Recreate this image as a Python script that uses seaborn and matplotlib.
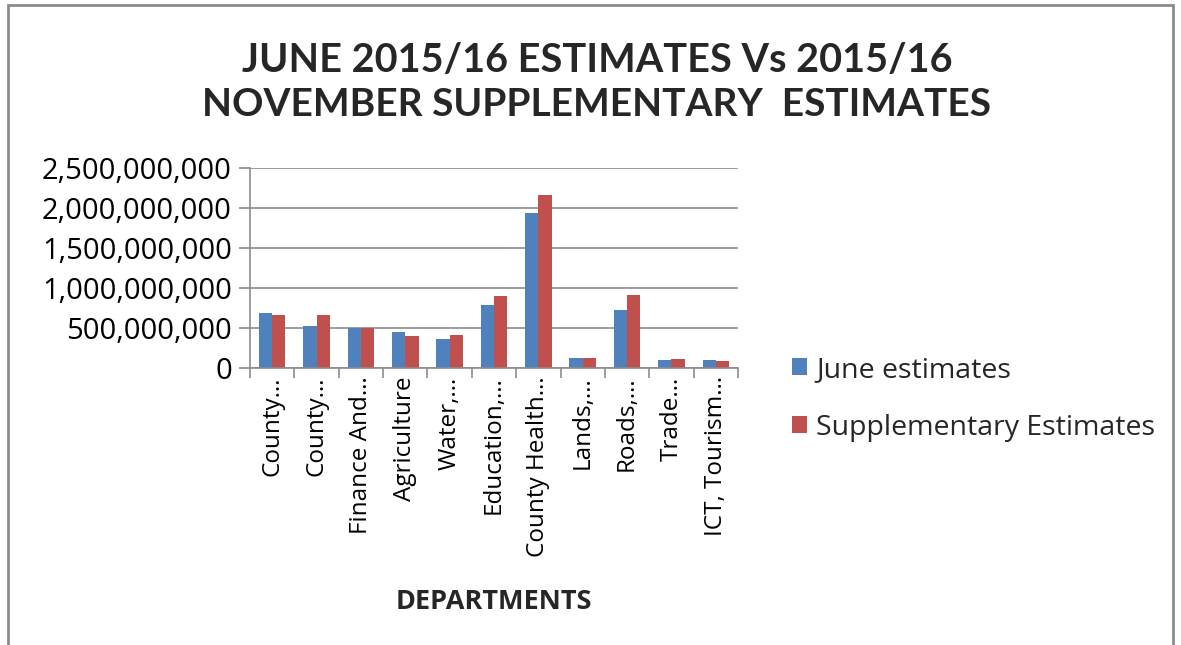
import matplotlib
matplotlib.use("Agg")
import matplotlib.pyplot as plt
import seaborn as sns
import pandas as pd
import numpy as np
from matplotlib.patches import Patch, Rectangle
from matplotlib.ticker import FuncFormatter, FixedLocator

departments = ["County…", "County…", "Finance And…", "Agriculture", "Water,…",
               "Education,…", "County Health…", "Lands,…", "Roads,…", "Trade…",
               "ICT, Tourism…"]
june_estimates = [683e6, 525e6, 500e6, 450e6, 362e6, 787e6, 1937e6, 129e6, 721e6, 96e6, 96e6]
supplementary_estimates = [663e6, 663e6, 500e6, 396e6, 412e6, 900e6, 2167e6, 129e6, 912e6, 112e6, 92e6]
series_names = ["June estimates", "Supplementary Estimates"]
colors = ["#4F81BD", "#C0504D"]

ids = [f"d{i}" for i in range(len(departments))]
df = pd.DataFrame({
    "dept": ids * 2,
    "value": june_estimates + supplementary_estimates,
    "series": [series_names[0]] * len(ids) + [series_names[1]] * len(ids),
})

sns.set_theme(style="white")
plt.rcParams["font.family"] = ["Lato", "DejaVu Sans"]
wide = ["Open Sans", "DejaVu Sans"]

fig = plt.figure(figsize=(11.81, 6.45), dpi=100)
ax = fig.add_axes([250/1181, 1-368/645, (738-250)/1181, 200/645])

sns.barplot(data=df, x="dept", y="value", hue="series", order=ids,
            hue_order=series_names, palette=colors, width=0.6, gap=0,
            saturation=1, ax=ax, legend=False, edgecolor="none")

ax.set_ylim(0, 2.5e9)
ax.set_xlim(-0.5, len(ids) - 0.5)
ax.set_yticks(np.arange(0, 2.5e9 + 1, 5e8))
ax.yaxis.set_major_formatter(FuncFormatter(lambda v, p: f"{int(v):,}"))
ax.yaxis.grid(True, color="#8c8c8c", linewidth=1.2)
ax.set_axisbelow(True)
for s in ["top", "right"]:
    ax.spines[s].set_visible(False)
ax.spines["left"].set_color("#8c8c8c")
ax.spines["bottom"].set_color("#8c8c8c")
ax.spines["left"].set_linewidth(1.2)
ax.spines["bottom"].set_linewidth(1.2)

ax.set_xticks(range(len(ids)))
ax.set_xticklabels(departments, rotation=90, fontsize=17.5, color="#000000",
                   family=wide)
ax.tick_params(axis="x", which="major", length=0, pad=6)
ax.xaxis.set_minor_locator(FixedLocator(np.arange(-0.5, len(ids), 1.0)))
ax.tick_params(axis="x", which="minor", length=7, color="#8c8c8c", width=1.2, bottom=True)
ax.tick_params(axis="y", which="major", length=8, color="#8c8c8c", width=1.2, left=True,
               labelsize=21, labelcolor="#000000", pad=5)
for lab in ax.get_yticklabels():
    lab.set_family(wide)

ax.set_xlabel("DEPARTMENTS", fontsize=19.5, fontweight="bold", labelpad=23, family=wide)
ax.set_ylabel("")

fig.text(597/1181, 1-60/645, "JUNE 2015/16 ESTIMATES Vs 2015/16", ha="center", va="center",
         fontsize=28.5, fontweight="bold")
fig.text(597/1181, 1-105/645, "NOVEMBER SUPPLEMENTARY  ESTIMATES", ha="center", va="center",
         fontsize=28, fontweight="bold")

handles = [Patch(facecolor=c, edgecolor="none") for c in colors]
fig.legend(handles, series_names, loc="upper left", bbox_to_anchor=(766/1181, 1-330/645),
           frameon=False, handlelength=0.55, handleheight=0.55,
           labelspacing=1.05, handletextpad=0.3, prop={"family": wide, "size": 20.5})

fig.patches.append(Rectangle((8/1181, -0.05), (1173-8)/1181, 1.05 - 5/645,
                             transform=fig.transFigure, fill=False,
                             edgecolor="#8c8c8c", linewidth=2))

fig.savefig("out.png", dpi=100)
